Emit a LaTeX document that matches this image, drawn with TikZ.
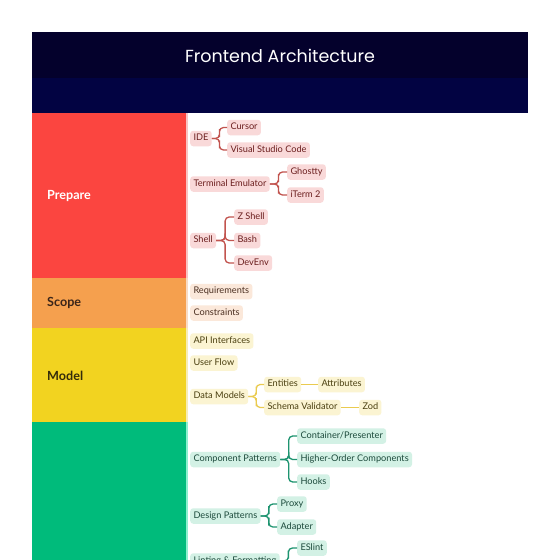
\documentclass[tikz,border=0pt]{standalone}
\usepackage{fontspec}
\setmainfont{Lato}
\newfontfamily\titlefont{Poppins}
\usetikzlibrary{calc}
\definecolor{hdrtop}{HTML}{04012C}
\definecolor{hdrbot}{HTML}{020342}
\definecolor{cprep}{HTML}{FB4540}
\definecolor{cscope}{HTML}{F5A04E}
\definecolor{cmodel}{HTML}{F2D320}
\definecolor{cgreen}{HTML}{00BB7B}
\definecolor{rfill}{HTML}{F9D9D9}
\definecolor{rtext}{HTML}{6B1E1E}
\definecolor{rline}{HTML}{C2544F}
\definecolor{rbord}{HTML}{F8C4C4}
\definecolor{ofill}{HTML}{FBE8DA}
\definecolor{otext}{HTML}{4A2E20}
\definecolor{obord}{HTML}{F8DCC6}
\definecolor{yfill}{HTML}{FBF4D2}
\definecolor{ytext}{HTML}{4A3F10}
\definecolor{yline}{HTML}{EACB4F}
\definecolor{ybord}{HTML}{F7EDB5}
\definecolor{gfill}{HTML}{D3F1E5}
\definecolor{gtext}{HTML}{1C4A3B}
\definecolor{gline}{HTML}{1E9470}
\definecolor{gbord}{HTML}{8EF0CF}
\newcommand{\elb}[3]{\draw[#1] (#2.east) -| ($(#2.east)!.5!(#3.west)$) |- (#3.west);}
\begin{document}
\begin{tikzpicture}[x=1pt,y=-1pt,
  item/.style={rounded corners=3pt, inner xsep=3.3pt, inner ysep=0pt, minimum height=15.5pt,
    font=\fontsize{9.2}{11}\selectfont, anchor=west, text height=6.6pt, text depth=1.9pt},
  rn/.style={item, fill=rfill, text=rtext},
  on/.style={item, fill=ofill, text=otext},
  yn/.style={item, fill=yfill, text=ytext},
  gn/.style={item, fill=gfill, text=gtext},
  lnk/.style={line width=1.3pt, rounded corners=4pt},
  rl/.style={lnk, draw=rline},
  yl/.style={lnk, draw=yline},
  gl/.style={lnk, draw=gline},
  seclabel/.style={anchor=west, font=\fontsize{12.6}{14}\selectfont\bfseries, inner sep=0pt}
]
\useasboundingbox (0,0) rectangle (560,560);
\clip (0,0) rectangle (560,560);
\fill[white] (0,0) rectangle (560,560);
% header
\fill[hdrbot] (32,32) rectangle (528,113);
\fill[hdrtop] (32,32) rectangle (528,78);
\node[text=white, font=\titlefont\fontsize{17.5}{20}\selectfont] (title) at (280,56) {Frontend Architecture};
% section bands
\fill[cprep] (32,113) rectangle (186,278);
\fill[cscope] (32,278) rectangle (186,328);
\fill[cmodel] (32,328) rectangle (186,422);
\fill[cgreen] (32,422) rectangle (186,560);
\fill[rbord] (186,113) rectangle (188,278);
\fill[obord] (186,278) rectangle (188,328);
\fill[ybord] (186,328) rectangle (188,422);
\fill[gbord] (186,422) rectangle (188,560);
\node[seclabel, text=white] (prepare) at (47,196) {Prepare};
\node[seclabel, text=otext!80!black] (scope) at (47,303) {Scope};
\node[seclabel, text=ytext!70!black] (model) at (47,376) {Model};
% Prepare
\node[rn] (ide) at (190,138.5) {IDE};
\node[rn] (cursor) at (227,127.5) {Cursor};
\node[rn] (vsc) at (227,150) {Visual Studio Code};
\node[rn] (term) at (190,184) {Terminal Emulator};
\node[rn] (ghostty) at (287,172) {Ghostty};
\node[rn] (iterm) at (287,195) {iTerm 2};
\node[rn] (shell) at (190,240.5) {Shell};
\node[rn] (zsh) at (234,217) {Z Shell};
\node[rn] (bash) at (234,240.5) {Bash};
\node[rn] (devenv) at (234,263) {DevEnv};
\elb{rl}{ide}{cursor}
\elb{rl}{ide}{vsc}
\elb{rl}{term}{ghostty}
\elb{rl}{term}{iterm}
\elb{rl}{shell}{zsh}
\elb{rl}{shell}{bash}
\elb{rl}{shell}{devenv}
% Scope
\node[on] (req) at (190,291.5) {Requirements};
\node[on] (cons) at (190,313) {Constraints};
% Model
\node[yn] (api) at (190,341) {API Interfaces};
\node[yn] (flow) at (190,363) {User Flow};
\node[yn] (dm) at (190,396.5) {Data Models};
\node[yn] (ent) at (264,384.5) {Entities};
\node[yn] (attr) at (318,384.5) {Attributes};
\node[yn] (schema) at (264,407.5) {Schema Validator};
\node[yn] (zod) at (359,407.5) {Zod};
\elb{yl}{dm}{ent}
\elb{yl}{dm}{schema}
\draw[yl] (ent.east) -- (attr.west);
\draw[yl] (schema.east) -- (zod.west);
% Green
\node[gn] (comp) at (190,459.5) {Component Patterns};
\node[gn] (cp) at (297,436) {Container/Presenter};
\node[gn] (hoc) at (297,459.5) {Higher-Order Components};
\node[gn] (hooks) at (297,482) {Hooks};
\node[gn] (design) at (190,516) {Design Patterns};
\node[gn] (proxy) at (277,504) {Proxy};
\node[gn] (adapter) at (277,527) {Adapter};
\node[gn] (lint) at (190,561) {Linting \& Formatting};
\node[gn] (eslint) at (297,548) {ESlint};
\elb{gl}{comp}{cp}
\elb{gl}{comp}{hoc}
\elb{gl}{comp}{hooks}
\elb{gl}{design}{proxy}
\elb{gl}{design}{adapter}
\elb{gl}{lint}{eslint}
\end{tikzpicture}
\end{document}
